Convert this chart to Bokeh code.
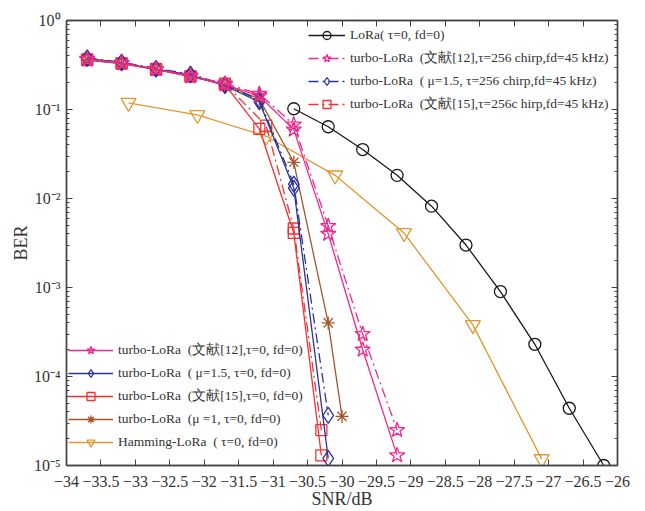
from bokeh.plotting import figure
from bokeh.models import Legend, LegendItem, FixedTicker, LinearAxis, LogAxis
from bokeh.embed import file_html
from bokeh.resources import INLINE

# ---------------- data ----------------
snr_lora = [-30.7, -30.2, -29.7, -29.2, -28.7, -28.2, -27.7, -27.2, -26.7, -26.2]
ber_lora = [0.102, 0.064, 0.0355, 0.0182, 0.0082, 0.0030, 9.0e-4, 2.3e-4, 4.4e-5, 1.0e-5]

snr_hamming = [-33.1, -32.1, -31.1, -30.1, -29.1, -28.1, -27.1]
ber_hamming = [0.119, 0.087, 0.050, 0.0182, 0.0041, 3.8e-4, 1.18e-5]

snr_t12 = [-33.7, -33.2, -32.7, -32.2, -31.7, -31.2, -30.7, -30.2, -29.7, -29.2]
ber_t12_off = [0.370, 0.335, 0.287, 0.240, 0.195, 0.150, 0.0675, 4.9e-3, 3.0e-4, 2.5e-5]
ber_t12_0 = [0.365, 0.330, 0.283, 0.235, 0.190, 0.142, 0.0594, 4.0e-3, 2.0e-4, 1.3e-5]

snr_mu15 = [-33.7, -33.2, -32.7, -32.2, -31.7, -31.2, -30.7, -30.2]
ber_mu15_off = [0.380, 0.340, 0.290, 0.250, 0.190, 0.128, 0.0145, 3.65e-5]
ber_mu15_0 = [0.375, 0.335, 0.285, 0.245, 0.185, 0.122, 0.0131, 1.2e-5]

snr_t15_off = [-33.7, -33.2, -32.7, -32.2, -31.7, -31.1, -30.7, -30.3]
ber_t15_off = [0.365, 0.330, 0.285, 0.237, 0.195, 0.0658, 4.6e-3, 2.5e-5]
snr_t15_0 = [-33.7, -33.2, -32.7, -32.2, -31.7, -31.2, -30.7, -30.3]
ber_t15_0 = [0.360, 0.330, 0.280, 0.235, 0.190, 0.0607, 4.1e-3, 1.3e-5]

snr_mu1 = [-33.7, -33.2, -32.7, -32.2, -31.7, -31.2, -30.7, -30.2, -30.0]
ber_mu1 = [0.360, 0.328, 0.283, 0.235, 0.190, 0.131, 0.0255, 4.0e-4, 3.56e-5]

x_ticks = [-34, -33.5, -33, -32.5, -32, -31.5, -31, -30.5, -30, -29.5, -29,
           -28.5, -28, -27.5, -27, -26.5, -26]
y_ticks = [1e-5, 1e-4, 1e-3, 1e-2, 1e-1, 1]
y_tick_labels = ["10\u207b\u2075", "10\u207b\u2074", "10\u207b\u00b3",
                 "10\u207b\u00b2", "10\u207b\u00b9", "10\u2070"]

labels_top = [
    "LoRa( \u03c4=0, fd=0)",
    "turbo-LoRa  (\u6587\u732e[12],\u03c4=256 chirp,fd=45 kHz)",
    "turbo-LoRa  ( \u03bc=1.5, \u03c4=256 chirp,fd=45 kHz)",
    "turbo-LoRa  (\u6587\u732e[15],\u03c4=256c hirp,fd=45 kHz)",
]
labels_bottom = [
    "turbo-LoRa  (\u6587\u732e[12],\u03c4=0, fd=0)",
    "turbo-LoRa  ( \u03bc=1.5, \u03c4=0, fd=0)",
    "turbo-LoRa  (\u6587\u732e[15],\u03c4=0, fd=0)",
    "turbo-LoRa  (\u03bc =1, \u03c4=0, fd=0)",
    "Hamming-LoRa  ( \u03c4=0, fd=0)",
]

# ---------------- styling ----------------
FONT = "Liberation Serif"
C_BLACK = "#1a1a1a"
C_PINK = "#f0288c"
C_BLUE = "#2b3596"
C_RED = "#f03232"
C_BROWN = "#a5552a"
C_ORANGE = "#e3962f"
AX = "#444444"
DASH = "10 4 2 4"

p = figure(width=645, height=511, x_range=(-34, -26), y_range=(1e-5, 1),
           y_axis_type="log", output_backend="svg", toolbar_location=None,
           min_border_left=66, min_border_right=28, min_border_top=20,
           min_border_bottom=43)
p.background_fill_color = "white"
p.border_fill_color = "white"
p.outline_line_color = AX
p.outline_line_width = 1.4
p.xgrid.visible = False
p.ygrid.visible = False


def series(x, y, color, marker, size, dash="solid"):
    lr = p.line(x, y, line_color=color, line_width=1.3, line_dash=dash)
    sr = p.scatter(x, y, marker=marker, size=size, line_color=color,
                   fill_color="white", fill_alpha=0, line_width=1.3)
    return [lr, sr]


r_lora = series(snr_lora, ber_lora, C_BLACK, "circle", 12)
r_ham = series(snr_hamming, ber_hamming, C_ORANGE, "inverted_triangle", 15)
r_t15_0 = series(snr_t15_0, ber_t15_0, C_RED, "square", 11)
r_t15_off = series(snr_t15_off, ber_t15_off, C_RED, "square", 11, DASH)
r_mu1 = series(snr_mu1, ber_mu1, C_BROWN, "asterisk", 13)
r_mu15_0 = series(snr_mu15, ber_mu15_0, C_BLUE, "diamond", 16)
r_mu15_off = series(snr_mu15, ber_mu15_off, C_BLUE, "diamond", 16, DASH)
r_t12_0 = series(snr_t12, ber_t12_0, C_PINK, "star", 16)
r_t12_off = series(snr_t12, ber_t12_off, C_PINK, "star", 16, DASH)

# ---------------- axes ----------------
def style_axis(ax):
    ax.axis_line_color = AX
    ax.axis_line_width = 1.4
    ax.major_tick_line_color = AX
    ax.minor_tick_line_color = AX
    ax.major_tick_in = 6
    ax.major_tick_out = 0
    ax.minor_tick_in = 3
    ax.minor_tick_out = 0
    ax.major_label_text_font = FONT
    ax.major_label_text_font_size = "16px"
    ax.major_label_text_color = "#333333"
    ax.axis_label_text_font = FONT
    ax.axis_label_text_font_size = "18px"
    ax.axis_label_text_font_style = "normal"
    ax.axis_label_text_color = "#333333"


minor_y = [m * 10.0 ** e for e in range(-5, 0) for m in range(2, 10)]

xa = p.xaxis[0]
xa.ticker = FixedTicker(ticks=x_ticks)
xa.major_label_overrides = {t: ("\u2212" + ("%g" % abs(t))) for t in x_ticks}
xa.axis_label = "SNR/dB"
style_axis(xa)
xa.major_label_standoff = 10
xa.axis_label_standoff = -1

ya = p.yaxis[0]
ya.ticker = FixedTicker(ticks=y_ticks, minor_ticks=minor_y)
ya.major_label_overrides = {t: l for t, l in zip(y_ticks, y_tick_labels)}
ya.axis_label = "BER"
style_axis(ya)
ya.major_label_standoff = 6
ya.axis_label_standoff = 0

# frame ticks on top and right (no labels)
top = LinearAxis(ticker=FixedTicker(ticks=x_ticks))
style_axis(top)
top.major_label_overrides = {t: "" for t in x_ticks}
top.major_label_standoff = 0
p.add_layout(top, "above")
right = LogAxis(ticker=FixedTicker(ticks=y_ticks, minor_ticks=minor_y))
style_axis(right)
right.major_label_overrides = {t: "" for t in y_ticks}
right.major_label_standoff = 0
p.add_layout(right, "right")

# ---------------- legends ----------------
def make_legend(labels, renders, loc, glyph_w):
    lg = Legend(items=[LegendItem(label=l, renderers=r) for l, r in zip(labels, renders)],
                location=loc, orientation="vertical")
    lg.label_text_font = FONT
    lg.label_text_font_size = "13.5px"
    lg.label_text_color = "#333333"
    lg.glyph_width = glyph_w
    lg.glyph_height = 20
    lg.label_height = 20
    lg.spacing = 3
    lg.padding = 2
    lg.margin = 0
    lg.label_standoff = 5
    lg.border_line_alpha = 0
    lg.background_fill_alpha = 0
    return lg


leg_top = make_legend(labels_top, [r_lora, r_t12_off, r_mu15_off, r_t15_off],
                      (240, 349), 37)
leg_bot = make_legend(labels_bottom, [r_t12_0, r_mu15_0, r_t15_0, r_mu1, r_ham],
                      (0, 11), 45)
p.add_layout(leg_top, "center")
p.add_layout(leg_bot, "center")

open("out.html", "w").write(file_html(p, INLINE))
